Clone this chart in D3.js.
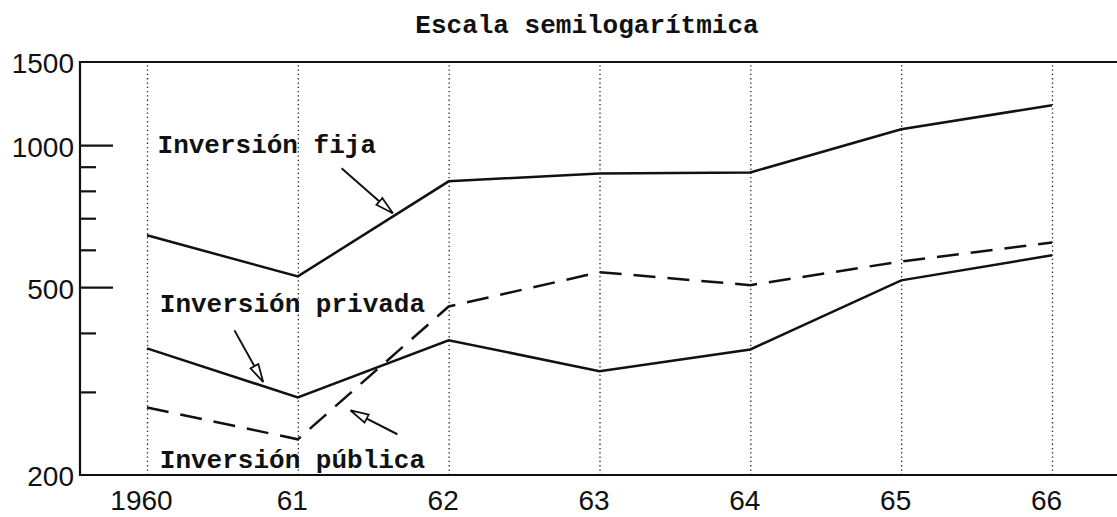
<!DOCTYPE html>
<html>
<head>
<meta charset="utf-8">
<script src="https://cdn.jsdelivr.net/npm/d3@7"></script>
<style>
  body { margin: 0; background: #fff; }
  svg { display: block; }
  .num { font-family: "Liberation Sans", Arial, sans-serif; font-size: 28px; fill: #111; }
  .tw { font-family: "Liberation Mono", "DejaVu Sans Mono", monospace; font-size: 26px; font-weight: bold; fill: #111; }
</style>
</head>
<body>
<script>
// chart values
var years = ["1960", "61", "62", "63", "64", "65", "66"];
var fija = [644, 527, 838, 871, 875, 1080, 1215];
var privada = [371, 292, 386, 332, 369, 517, 584];
var publica = [278, 238, 455, 538, 505, 567, 622];
var yLabels = [200, 500, 1000, 1500];
var majorTicks = [500, 1000];
var minorTicks = [300, 400, 600, 700, 800, 900];
var title = "Escala semilogarítmica";

// annotations, in data units (year index, value)
var labelNames = ["Inversión fija", "Inversión privada", "Inversión pública"];
var labelAt = [[0.07, 961], [0.085, 442], [0.085, 207]];
var arrowFrom = [[1.29, 893], [0.58, 405], [1.66, 244]];
var arrowTo = [[1.63, 717], [0.77, 315], [1.35, 274]];

// plot box
var width = 1117, height = 517;
var boxLeft = 80, boxRight = 1117, boxTop = 62, boxBottom = 475;

var svg = d3.select("body").append("svg")
            .attr("width", width)
            .attr("height", height);

var x = d3.scaleLinear().domain([0, years.length - 1]).range([147, 1052]);
var y = d3.scaleLog().domain([200, 1500]).range([boxBottom, boxTop]);

// dotted vertical grid
svg.append("g")
   .attr("transform", "translate(0," + boxBottom + ")")
   .call(d3.axisBottom(x).tickValues(d3.range(years.length)).tickSize(-(boxBottom - boxTop)).tickFormat(""))
   .call(function(g) {
     g.select(".domain").remove();
     g.selectAll("line").attr("stroke", "#222").attr("stroke-width", 1.3).attr("stroke-dasharray", "1.3,3");
   });

// x labels
svg.append("g")
   .attr("transform", "translate(-6," + boxBottom + ")")
   .call(d3.axisBottom(x).tickValues(d3.range(years.length)).tickSize(0).tickPadding(15)
           .tickFormat(function(d) { return years[d]; }))
   .call(function(g) {
     g.select(".domain").remove();
     g.selectAll("text").attr("class", "num").attr("fill", null);
   });

// frame
svg.append("path")
   .attr("d", "M" + boxRight + "," + boxTop + "H" + boxLeft + "V" + boxBottom + "H" + boxRight)
   .attr("fill", "none").attr("stroke", "#111").attr("stroke-width", 2.2);

// inward ticks on y axis
svg.append("g")
   .attr("transform", "translate(" + boxLeft + ",0)")
   .call(d3.axisRight(y).tickValues(majorTicks).tickSize(33).tickFormat(""))
   .call(function(g) { g.select(".domain").remove(); g.selectAll("line").attr("stroke", "#111").attr("stroke-width", 2.2); });
svg.append("g")
   .attr("transform", "translate(" + boxLeft + ",0)")
   .call(d3.axisRight(y).tickValues(minorTicks).tickSize(16).tickFormat(""))
   .call(function(g) { g.select(".domain").remove(); g.selectAll("line").attr("stroke", "#111").attr("stroke-width", 2.2); });

// y labels
svg.append("g")
   .attr("transform", "translate(" + (boxLeft - 6) + ",2)")
   .call(d3.axisLeft(y).tickValues(yLabels).tickSize(0).tickPadding(0).tickFormat(d3.format("d")))
   .call(function(g) {
     g.select(".domain").remove();
     g.selectAll("text").attr("class", "num").attr("fill", null);
   });

// lines
var line = d3.line()
             .x(function(d, i) { return x(i); })
             .y(function(d) { return y(d); });

[[fija, null], [privada, null], [publica, "22,12"]].forEach(function(s) {
  svg.append("path")
     .datum(s[0])
     .attr("d", line)
     .attr("fill", "none")
     .attr("stroke", "#111")
     .attr("stroke-width", 2.5)
     .attr("stroke-dasharray", s[1]);
});

// arrowhead marker (open triangle)
svg.append("defs").append("marker")
   .attr("id", "head")
   .attr("viewBox", "0 0 20 12")
   .attr("refX", 19).attr("refY", 6)
   .attr("markerWidth", 20).attr("markerHeight", 12)
   .attr("markerUnits", "userSpaceOnUse")
   .attr("orient", "auto")
   .append("path")
   .attr("d", "M1,1.5L19,6L1,10.5Z")
   .attr("fill", "#fff").attr("stroke", "#111").attr("stroke-width", 1.8);

arrowFrom.forEach(function(a, i) {
  svg.append("line")
     .attr("x1", x(a[0])).attr("y1", y(a[1]))
     .attr("x2", x(arrowTo[i][0])).attr("y2", y(arrowTo[i][1]))
     .attr("stroke", "#111").attr("stroke-width", 2)
     .attr("marker-end", "url(#head)");
});

// series labels
svg.selectAll("text.lab")
   .data(labelNames)
   .enter().append("text")
   .attr("class", "tw")
   .attr("x", function(d, i) { return x(labelAt[i][0]); })
   .attr("y", function(d, i) { return y(labelAt[i][1]); })
   .text(function(d) { return d; });

// title
svg.append("text")
   .attr("class", "tw")
   .attr("x", 587).attr("y", 33)
   .attr("text-anchor", "middle")
   .text(title);
</script>
</body>
</html>
